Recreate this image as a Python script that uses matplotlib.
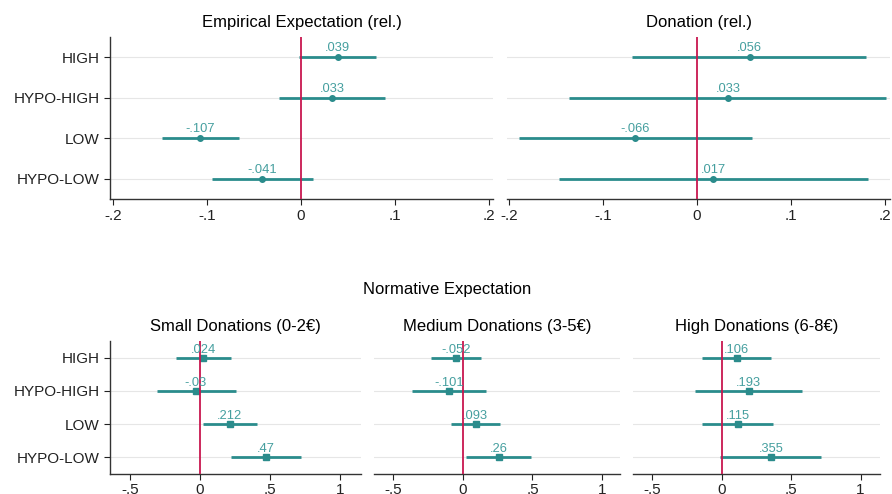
import numpy as np
import matplotlib
matplotlib.use("Agg")
import matplotlib.pyplot as plt

plt.rcParams['font.family'] = ['Liberation Sans', 'DejaVu Sans']

groups = ["HIGH", "HYPO-HIGH", "LOW", "HYPO-LOW"]

# Empirical Expectation (rel.)
emp_est = [0.039, 0.033, -0.107, -0.041]
emp_lo = [-0.002, -0.023, -0.148, -0.095]
emp_hi = [0.080, 0.089, -0.066, 0.013]
emp_lab = [".039", ".033", "-.107", "-.041"]

# Donation (rel.)
don_est = [0.056, 0.033, -0.066, 0.017]
don_lo = [-0.069, -0.136, -0.189, -0.147]
don_hi = [0.180, 0.201, 0.058, 0.182]
don_lab = [".056", ".033", "-.066", ".017"]

# Normative Expectation
small_est = [0.024, -0.03, 0.212, 0.47]
small_lo = [-0.17, -0.305, 0.02, 0.22]
small_hi = [0.218, 0.254, 0.408, 0.72]
small_lab = [".024", "-.03", ".212", ".47"]

med_est = [-0.052, -0.101, 0.093, 0.26]
med_lo = [-0.23, -0.365, -0.089, 0.022]
med_hi = [0.127, 0.166, 0.268, 0.49]
med_lab = ["-.052", "-.101", ".093", ".26"]

high_est = [0.106, 0.193, 0.115, 0.355]
high_lo = [-0.144, -0.196, -0.141, -0.01]
high_hi = [0.355, 0.576, 0.37, 0.713]
high_lab = [".106", ".193", ".115", ".355"]

top_ticks = [-0.2, -0.1, 0, 0.1, 0.2]
top_ticklabels = ["-.2", "-.1", "0", ".1", ".2"]
bot_ticks = [-0.5, 0, 0.5, 1]
bot_ticklabels = ["-.5", "0", ".5", "1"]

teal = "#2b8c8c"
teal_txt = "#459f9f"
red = "#c8174f"

W, H = 892, 494
fig = plt.figure(figsize=(W / 100, H / 100), dpi=100)


def add_ax(x0, x1, ytop, ybot):
    return fig.add_axes([x0 / W, 1 - ybot / H, (x1 - x0) / W, (ybot - ytop) / H])


def panel(ax, est, lo, hi, labs, title, ticks, ticklabels, xlim, show_y, marker, ms, off, xpad):
    y = np.arange(1, len(groups) + 1)
    for yy in y:
        ax.axhline(yy, color="#e6e6e6", lw=0.8, zorder=0)
    ax.hlines(y, lo, hi, color=teal, lw=2.0, zorder=2)
    ax.plot(est, y, ls="none", marker=marker, ms=ms, color=teal, zorder=3)
    ax.axvline(0, color=red, lw=1.3, zorder=4)
    for e, yy, t in zip(est, y, labs):
        ax.annotate(t, (e, yy), xytext=(0, off), textcoords="offset points",
                    ha="center", va="bottom", fontsize=9.3, color=teal_txt, zorder=5)
    ax.set_xlim(*xlim)
    ax.set_ylim(4.5, 0.5)
    ax.set_xticks(ticks)
    ax.set_xticklabels(ticklabels, fontsize=11)
    ax.set_yticks(y)
    ax.tick_params(colors="#222222", length=4, width=0.8)
    ax.tick_params(axis="x", pad=xpad)
    if show_y:
        ax.set_yticklabels(groups, fontsize=11)
    else:
        ax.set_yticklabels([])
        ax.tick_params(axis="y", length=0)
        ax.spines["left"].set_visible(False)
    for s in ["top", "right"]:
        ax.spines[s].set_visible(False)
    for s in ["left", "bottom"]:
        ax.spines[s].set_color("#333333")
        ax.spines[s].set_linewidth(1.0)
    ax.set_title(title, fontsize=12, pad=7)


ax1 = add_ax(110, 493, 37, 199)
panel(ax1, emp_est, emp_lo, emp_hi, emp_lab, "Empirical Expectation (rel.)",
      top_ticks, top_ticklabels, (-0.203, 0.204), True, "o", 4, 2, 3.5)
ax2 = add_ax(507, 890, 37, 199)
panel(ax2, don_est, don_lo, don_hi, don_lab, "Donation (rel.)",
      top_ticks, top_ticklabels, (-0.202, 0.205), False, "o", 4, 2, 3.5)

ax3 = add_ax(110, 361, 341, 474)
panel(ax3, small_est, small_lo, small_hi, small_lab, "Small Donations (0-2€)",
      bot_ticks, bot_ticklabels, (-0.643, 1.15), True, "s", 4, 1.5, 2.5)
ax4 = add_ax(374, 620, 341, 474)
panel(ax4, med_est, med_lo, med_hi, med_lab, "Medium Donations (3-5€)",
      bot_ticks, bot_ticklabels, (-0.64, 1.13), False, "s", 4, 1.5, 2.5)
ax5 = add_ax(633, 880, 341, 474)
panel(ax5, high_est, high_lo, high_hi, high_lab, "High Donations (6-8€)",
      bot_ticks, bot_ticklabels, (-0.64, 1.14), False, "s", 4, 1.5, 2.5)

fig.text(447 / W, 1 - 289 / H, "Normative Expectation", ha="center", va="center", fontsize=12)

fig.savefig("out.png", dpi=100, facecolor="white")
